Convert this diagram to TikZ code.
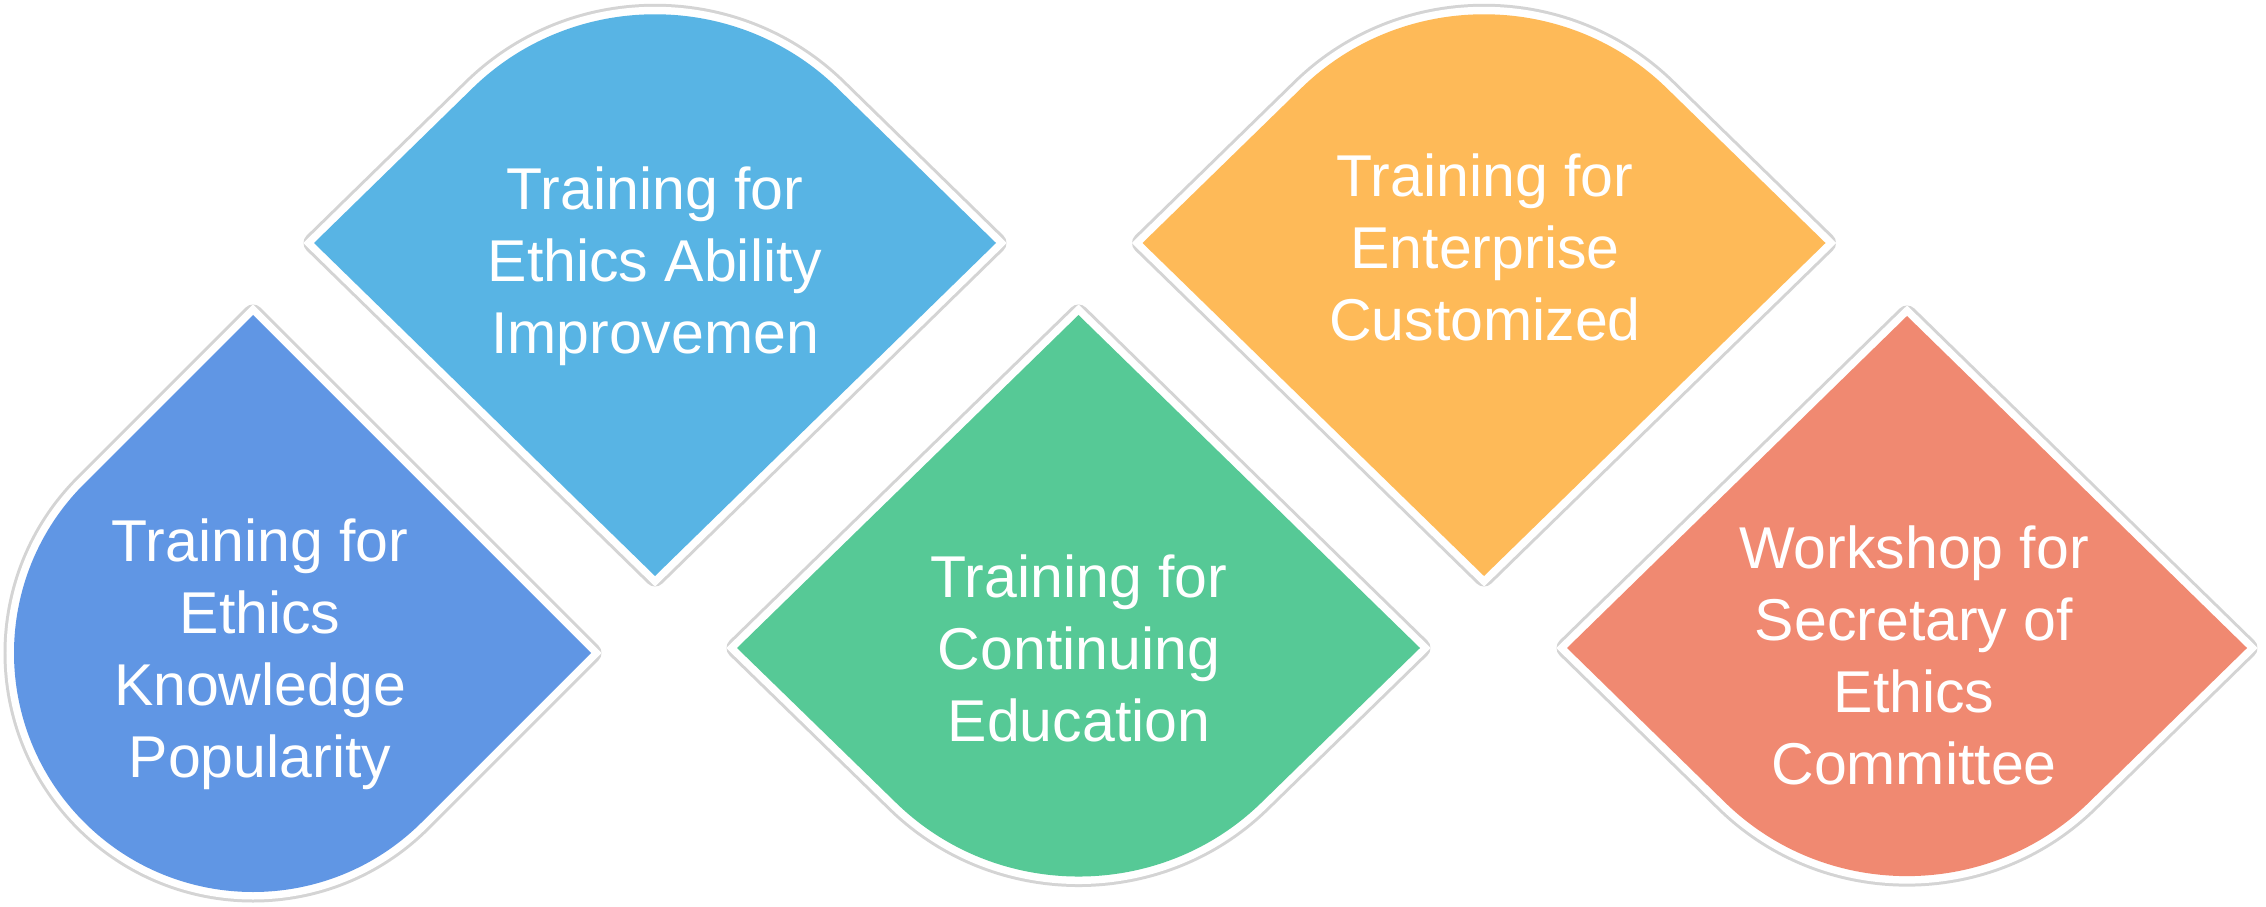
\documentclass[tikz,border=0pt]{standalone}
\usepackage{fontspec}
\setmainfont{Liberation Sans}
\definecolor{cBlue}{RGB}{96,150,228}
\definecolor{cSky}{RGB}{88,180,228}
\definecolor{cGreen}{RGB}{86,201,150}
\definecolor{cOrange}{RGB}{254,186,88}
\definecolor{cSalmon}{RGB}{240,137,113}
\tikzset{
  petal/.style={
    preaction={draw=black!17, line width=21pt, line join=round},
    preaction={draw=white, line width=15pt, line join=miter},
    fill=#1},
  boxtext/.style={text=white, align=center, anchor=base, inner sep=0pt,
    font=\fontsize{59}{72}\selectfont},
}
\begin{document}
\begin{tikzpicture}[x=1pt,y=1pt]
\useasboundingbox (0,0) rectangle (2266,906);
\fill[white] (0,0) rectangle (2266,906);
% shape 1: blue, top and right sharp
\path[petal=cBlue] (84,422) -- (253,591) -- (591,253) -- (422,84)
  arc[start angle=-45, end angle=-225, radius=239pt] -- cycle;
% shape 2: sky, top rounded
\path[petal=cSky] (314,663) -- (655,330) -- (996,663) -- (837.3,818)
  arc[start angle=45, end angle=135, x radius=257.8pt, y radius=251.7pt] -- cycle;
% shape 3: green, bottom rounded
\path[petal=cGreen] (737,258) -- (1078.5,591) -- (1420,258) -- (1261.2,103.2)
  arc[start angle=-45, end angle=-135, x radius=258.2pt, y radius=251.7pt] -- cycle;
% shape 4: orange, top rounded
\path[petal=cOrange] (1142.5,663) -- (1484,330) -- (1825.5,663) -- (1666.6,818)
  arc[start angle=45, end angle=135, x radius=258.2pt, y radius=251.7pt] -- cycle;
% shape 5: salmon, bottom rounded
\path[petal=cSalmon] (1567,258) -- (1907,590) -- (2247,258) -- (2088.7,103.4)
  arc[start angle=-45, end angle=-135, x radius=257pt, y radius=251pt] -- cycle;
% texts (anchor = baseline of the last line)
\node[boxtext] (t1) at (260,129) {Training for\\Ethics\\Knowledge\\Popularity};
\node[boxtext] (t2) at (655,552) {Training for\\Ethics Ability\\Improvemen};
\node[boxtext] (t3) at (1079,165) {Training for\\Continuing\\Education};
\node[boxtext] (t4) at (1485,565) {Training for\\Enterprise\\Customized};
\node[boxtext] (t5) at (1914,122) {Workshop for\\Secretary of\\Ethics\\Committee};
\end{tikzpicture}
\end{document}
